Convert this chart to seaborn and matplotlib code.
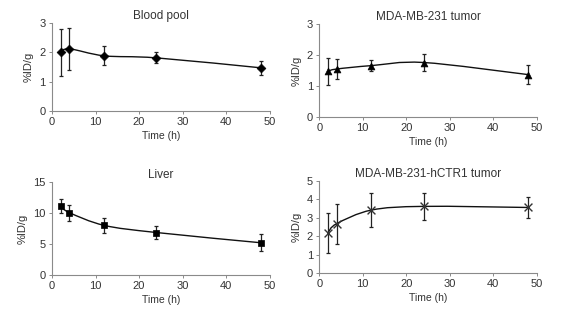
import numpy as np
import pandas as pd
import matplotlib
matplotlib.use("Agg")
import matplotlib.pyplot as plt
from matplotlib.path import Path
from matplotlib.patches import PathPatch
import seaborn as sns

time_h = [2, 4, 12, 24, 48]

blood_mean = [2.00, 2.12, 1.88, 1.81, 1.47]
blood_err = [0.81, 0.72, 0.32, 0.19, 0.25]

tumor_mean = [1.48, 1.55, 1.66, 1.76, 1.37]
tumor_err = [0.43, 0.31, 0.18, 0.27, 0.31]

liver_mean = [11.1, 10.05, 8.0, 6.85, 5.2]
liver_err = [1.15, 1.3, 1.2, 1.05, 1.35]

hctr1_mean = [2.18, 2.68, 3.42, 3.62, 3.56]
hctr1_err = [1.07, 1.09, 0.91, 0.72, 0.57]

titles = ["Blood pool", "MDA-MB-231 tumor", "Liver", "MDA-MB-231-hCTR1 tumor"]
ylims = [3, 3, 15, 5]
ysteps = [1, 1, 5, 1]
markers = ["D", "^", "s", "x"]
msizes = [20, 24, 24, 32]

sns.set_style("white")
plt.rcParams["font.family"] = ["Liberation Sans", "DejaVu Sans"]
text_c = "#333333"
spine_c = "#8a8a8a"

fig = plt.figure(figsize=(5.61, 3.29), dpi=100)
rects = [
    [0.0927, 0.663, 0.388, 0.267],
    [0.569, 0.644, 0.388, 0.283],
    [0.0927, 0.164, 0.388, 0.283],
    [0.569, 0.170, 0.388, 0.280],
]
means = [blood_mean, tumor_mean, liver_mean, hctr1_mean]
errs = [blood_err, tumor_err, liver_err, hctr1_err]


def smooth_path(xs, ys):
    pts = np.column_stack([xs, ys]).astype(float)
    n = len(pts)
    verts = [pts[0]]
    codes = [Path.MOVETO]
    for i in range(n - 1):
        p0 = pts[i - 1] if i > 0 else pts[i]
        p1 = pts[i]
        p2 = pts[i + 1]
        p3 = pts[i + 2] if i + 2 < n else pts[i + 1]
        c1 = p1 + (p2 - p0) / 6.0
        c2 = p2 - (p3 - p1) / 6.0
        verts += [c1, c2, p2]
        codes += [Path.CURVE4] * 3
    return Path(verts, codes)


for k in range(4):
    ax = fig.add_axes(rects[k])
    df = pd.DataFrame({"t": time_h, "v": means[k], "e": errs[k]})
    patch = PathPatch(smooth_path(df["t"], df["v"]), facecolor="none",
                      edgecolor="#111111", lw=1.0, zorder=2)
    ax.add_patch(patch)
    ax.errorbar(df["t"], df["v"], yerr=df["e"], fmt="none", ecolor="#222222",
                elinewidth=0.9, capsize=1.6, capthick=0.9, zorder=3)
    if markers[k] == "x":
        sns.scatterplot(data=df, x="t", y="v", marker="x", s=msizes[k],
                        color="#333333", linewidth=1.0, ax=ax, zorder=4)
    else:
        sns.scatterplot(data=df, x="t", y="v", marker=markers[k], s=msizes[k],
                        color="black", edgecolor="black", linewidth=0.5,
                        ax=ax, zorder=4)
    ax.set_xlim(0, 50)
    ax.set_ylim(0, ylims[k])
    ax.set_xticks(range(0, 51, 10))
    ax.set_yticks(np.arange(0, ylims[k] + 0.01, ysteps[k]))
    ax.set_xlabel("Time (h)", fontsize=7.5, color=text_c, labelpad=2.5)
    ax.set_ylabel("%ID/g", fontsize=8, color=text_c, labelpad=4)
    ax.set_title(titles[k], fontsize=8.5, color=text_c, pad=3)
    ax.tick_params(axis="both", labelsize=8, colors=text_c, length=2.5,
                   width=0.7, pad=2, direction="out", bottom=True, left=True)
    for s in ["top", "right"]:
        ax.spines[s].set_visible(False)
    for s in ["left", "bottom"]:
        ax.spines[s].set_color(spine_c)
        ax.spines[s].set_linewidth(0.8)
    ax.tick_params(axis="both", color=spine_c)
    ax.set_facecolor("white")

fig.savefig("out.png", dpi=100, facecolor="white")
